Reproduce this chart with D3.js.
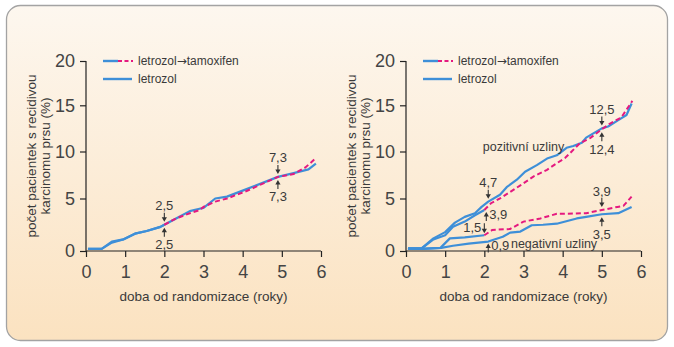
<!DOCTYPE html>
<html>
<head>
<meta charset="utf-8">
<script src="https://cdn.jsdelivr.net/npm/d3@7"></script>
<style>
  html, body { margin: 0; padding: 0; background: #fff; }
  svg { display: block; font-family: "Liberation Sans", Arial, Helvetica, sans-serif; }
</style>
</head>
<body>
<div id="chart"></div>
<script>
// Year of the switch from letrozol to tamoxifen
const switchYear = 2;

const xTicks = [0, 1, 2, 3, 4, 5, 6];
const yTicks = [0, 5, 10, 15, 20];

// Left panel: all patients
const leftLetrozolYears  = [0.05, 0.4, 0.66, 0.95, 1.25, 1.55, 1.9, 2.0, 2.3, 2.65, 2.87, 3.0, 3.3, 3.6, 4.1, 4.9, 5.3, 5.68, 5.87];
const leftLetrozolValues = [0.2, 0.2, 0.8, 1.1, 1.65, 1.9, 2.3, 2.5, 3.1, 3.8, 4.0, 4.1, 5.0, 5.2, 6.0, 7.3, 7.7, 8.1, 8.7];
const leftSwitchYears    = [0.05, 0.4, 0.66, 0.95, 1.25, 1.55, 1.9, 2.0, 2.3, 2.65, 2.9, 3.0, 3.3, 3.6, 4.1, 4.9, 5.3, 5.6, 5.87];
const leftSwitchValues   = [0.2, 0.2, 0.9, 1.1, 1.65, 1.9, 2.3, 2.5, 3.1, 3.6, 3.9, 4.2, 4.7, 5.0, 5.8, 7.3, 7.6, 8.3, 9.3];

// Right panel: node-positive patients
const posLetrozolYears  = [0.05, 0.4, 0.7, 1.0, 1.25, 1.5, 1.76, 1.93, 2.1, 2.4, 2.57, 2.83, 3.04, 3.34, 3.6, 3.85, 4.1, 4.27, 4.49, 4.6, 5.0, 5.16, 5.42, 5.63, 5.76];
const posLetrozolValues = [0.25, 0.25, 1.2, 1.8, 2.7, 3.25, 3.6, 4.2, 4.7, 5.4, 6.2, 7.0, 7.85, 8.55, 9.25, 9.6, 10.4, 10.6, 10.95, 11.5, 12.5, 12.7, 13.4, 13.95, 15.2];
const posSwitchYears    = [0.05, 0.4, 0.7, 1.0, 1.2, 1.5, 1.76, 2.0, 2.17, 2.4, 2.66, 2.92, 3.26, 3.6, 3.85, 4.06, 4.23, 4.44, 4.7, 5.0, 5.2, 5.5, 5.78];
const posSwitchValues   = [0.25, 0.25, 1.1, 1.5, 2.3, 2.8, 3.4, 3.9, 4.55, 5.0, 5.7, 6.4, 7.35, 8.05, 8.75, 9.3, 10.0, 10.9, 11.45, 12.4, 13.0, 13.7, 15.5];

// Right panel: node-negative patients
const negLetrozolYears  = [0.05, 0.4, 0.9, 1.2, 1.6, 2.1, 2.47, 2.66, 2.92, 3.21, 3.5, 3.85, 4.36, 4.6, 5.0, 5.42, 5.76];
const negLetrozolValues = [0.2, 0.2, 0.3, 0.5, 0.7, 0.9, 1.35, 1.75, 1.85, 2.45, 2.5, 2.6, 3.1, 3.25, 3.5, 3.6, 4.2];
const negSwitchYears    = [0.05, 0.4, 0.88, 1.12, 1.5, 2.0, 2.2, 2.66, 3.0, 3.43, 3.85, 4.1, 4.6, 5.0, 5.4, 5.55, 5.76];
const negSwitchValues   = [0.2, 0.2, 0.3, 1.2, 1.3, 1.5, 2.0, 2.1, 2.8, 3.1, 3.55, 3.55, 3.6, 3.9, 4.2, 4.3, 5.2];

// Value callouts: [year, value, text, placement]
const leftCallouts = [
  [2.0, 2.5, "2,5", "above"],
  [2.0, 2.5, "2,5", "below"],
  [4.9, 7.3, "7,3", "above"],
  [4.9, 7.3, "7,3", "below"]
];
const rightCallouts = [
  [2.1, 4.7, "4,7", "above"],
  [2.05, 3.9, "3,9", "belowRight"],
  [2.0, 1.5, "1,5", "aboveLeft"],
  [2.1, 0.9, "0,9", "belowRight"],
  [5.0, 12.5, "12,5", "above"],
  [5.0, 12.4, "12,4", "below"],
  [5.0, 3.9, "3,9", "above"],
  [5.0, 3.5, "3,5", "below"]
];
const rightGroupLabels = [
  [3.0, 10.5, "pozitivní uzliny"],
  [3.78, 0.75, "negativní uzliny"]
];

// Legend entries as [before arrow, arrow, after arrow]
const legendItems = [["letrozol", "\u2192", "tamoxifen"], ["letrozol", "", ""]];
const yTitle = ["počet pacientek s recidivou", "karcinomu prsu (%)"];
const xTitle = "doba od randomizace (roky)";

const blue = "#3e8fd8";
const pink = "#e5197f";
const ink = "#3a3a3a";

const width = 674;
const height = 347;

const svg = d3.select("#chart")
  .append("svg")
  .attr("width", width)
  .attr("height", height);

// Panel background
const grad = svg.append("defs").append("linearGradient")
  .attr("id", "bg").attr("x1", 0).attr("y1", 0).attr("x2", 0).attr("y2", 1);
grad.append("stop").attr("offset", "0%").attr("stop-color", "#fdf7ef");
grad.append("stop").attr("offset", "100%").attr("stop-color", "#fbe2c0");

svg.append("rect")
  .attr("x", 6.5).attr("y", 5.5)
  .attr("width", 661).attr("height", 335)
  .attr("rx", 14)
  .attr("fill", "url(#bg)")
  .attr("stroke", "#a3a3a3")
  .attr("stroke-width", 1.3);

const pairs = (xs, ys) => xs.map((x, i) => [x, ys[i]]);

function drawPanel(left, series, callouts, groupLabels) {
  const x = d3.scaleLinear().domain([0, 6]).range([left, left + 235]);
  const y = d3.scaleLinear().domain([0, 5, 10, 15, 20]).range([251, 198.5, 151.5, 105.3, 61]);
  const g = svg.append("g");

  // Axes
  const xAxis = g.append("g")
    .attr("transform", "translate(0,251)")
    .call(d3.axisBottom(x).tickValues(xTicks).tickSize(6).tickPadding(4).tickFormat(d3.format("d")));
  const yAxis = g.append("g")
    .attr("transform", `translate(${left},0)`)
    .call(d3.axisLeft(y).tickValues(yTicks).tickSize(6).tickPadding(5).tickFormat(d3.format("d")));
  [xAxis, yAxis].forEach(a => {
    a.select(".domain").attr("stroke", "#222").attr("stroke-width", 1.2);
    a.selectAll(".tick line").attr("stroke", "#222").attr("stroke-width", 1.2);
    a.selectAll(".tick text")
      .attr("fill", "#444")
      .style("font-size", "18px")
      .style("font-family", "'Liberation Sans', Arial, sans-serif");
  });
  xAxis.select(".domain").attr("d", `M${left},0H${left + 235}`);
  yAxis.select(".domain").attr("d", "M0,61V251");
  xAxis.selectAll(".tick text").attr("dy", "0.95em");

  // Axis titles
  g.append("text")
    .attr("x", (x(0) + x(6)) / 2)
    .attr("y", 301)
    .attr("text-anchor", "middle")
    .attr("fill", ink)
    .style("font-size", "13.5px")
    .text(xTitle);

  yTitle.forEach((t, i) => {
    g.append("text")
      .attr("transform", `translate(${left - 50 + i * 13.5},156) rotate(-90)`)
      .attr("text-anchor", "middle")
      .attr("fill", ink)
      .style("font-size", "13.5px")
      .text(t);
  });

  const line = d3.line().x(d => x(d[0])).y(d => y(d[1]));

  series.forEach(s => {
    const pts = pairs(s.years, s.values);
    if (s.switched) {
      const before = pts.filter(d => d[0] <= switchYear);
      const after = pts.filter(d => d[0] >= switchYear);
      g.append("path").datum(before)
        .attr("d", line).attr("fill", "none")
        .attr("stroke", blue).attr("stroke-width", 2.2)
        .attr("stroke-linejoin", "round");
      g.append("path").datum(after)
        .attr("d", line).attr("fill", "none")
        .attr("stroke", pink).attr("stroke-width", 2)
        .attr("stroke-dasharray", "5,3");
    } else {
      g.append("path").datum(pts)
        .attr("d", line).attr("fill", "none")
        .attr("stroke", blue).attr("stroke-width", 2.2)
        .attr("stroke-linejoin", "round");
    }
  });

  // Callouts with small arrows
  callouts.forEach(([yr, v, label, where]) => {
    const cx = x(yr), cy = y(v);
    let a1, a2, tx, ty, anchor = "middle";
    if (where === "above") {
      a1 = cy - 12; a2 = cy - 3; tx = cx; ty = cy - 14.5;
    } else if (where === "below") {
      a1 = cy + 12; a2 = cy + 3; tx = cx; ty = cy + 24.5;
    } else if (where === "belowRight") {
      a1 = cy + 11; a2 = cy + 2; tx = cx + 3; ty = cy + 8.5; anchor = "start";
    } else {
      a1 = cy - 12; a2 = cy - 2; tx = cx - 3; ty = cy - 3; anchor = "end";
    }
    const dir = Math.sign(a2 - a1);
    g.append("line")
      .attr("x1", cx).attr("y1", a1).attr("x2", cx).attr("y2", a2 - dir * 2)
      .attr("stroke", "#333").attr("stroke-width", 1.1);
    g.append("path")
      .attr("d", `M${cx - 2.6},${a2 - dir * 4.5}L${cx},${a2}L${cx + 2.6},${a2 - dir * 4.5}Z`)
      .attr("fill", "#333");
    g.append("text")
      .attr("x", tx).attr("y", ty)
      .attr("text-anchor", anchor)
      .attr("fill", ink)
      .style("font-size", "13px")
      .text(label);
  });

  groupLabels.forEach(([yr, v, label]) => {
    g.append("text")
      .attr("x", x(yr)).attr("y", y(v))
      .attr("dy", "0.35em")
      .attr("text-anchor", "middle")
      .attr("fill", ink)
      .style("font-size", "12.5px")
      .text(label);
  });

  // Legend
  const legend = g.append("g").attr("transform", `translate(${left + 17},61)`);
  legend.append("line").attr("x1", 0).attr("x2", 15).attr("y1", 0).attr("y2", 0)
    .attr("stroke", blue).attr("stroke-width", 2.4);
  legend.append("line").attr("x1", 15).attr("x2", 30).attr("y1", 0).attr("y2", 0)
    .attr("stroke", pink).attr("stroke-width", 2.2).attr("stroke-dasharray", "4,2.5");
  legend.append("line").attr("x1", 0).attr("x2", 29).attr("y1", 18).attr("y2", 18)
    .attr("stroke", blue).attr("stroke-width", 2.4);
  legendItems.forEach(([a, arrow, b], i) => {
    const t = legend.append("text")
      .attr("x", 35).attr("y", i * 18)
      .attr("dy", "0.35em")
      .attr("fill", ink)
      .style("font-size", "12px");
    t.append("tspan").text(a);
    if (arrow) {
      t.append("tspan").style("font-family", "'DejaVu Sans', sans-serif").text(arrow);
      t.append("tspan").text(b);
    }
  });
}

drawPanel(86,
  [
    { years: leftLetrozolYears, values: leftLetrozolValues, switched: false },
    { years: leftSwitchYears, values: leftSwitchValues, switched: true }
  ],
  leftCallouts, []);

drawPanel(406,
  [
    { years: posLetrozolYears, values: posLetrozolValues, switched: false },
    { years: negLetrozolYears, values: negLetrozolValues, switched: false },
    { years: posSwitchYears, values: posSwitchValues, switched: true },
    { years: negSwitchYears, values: negSwitchValues, switched: true }
  ],
  rightCallouts, rightGroupLabels);
</script>
</body>
</html>
